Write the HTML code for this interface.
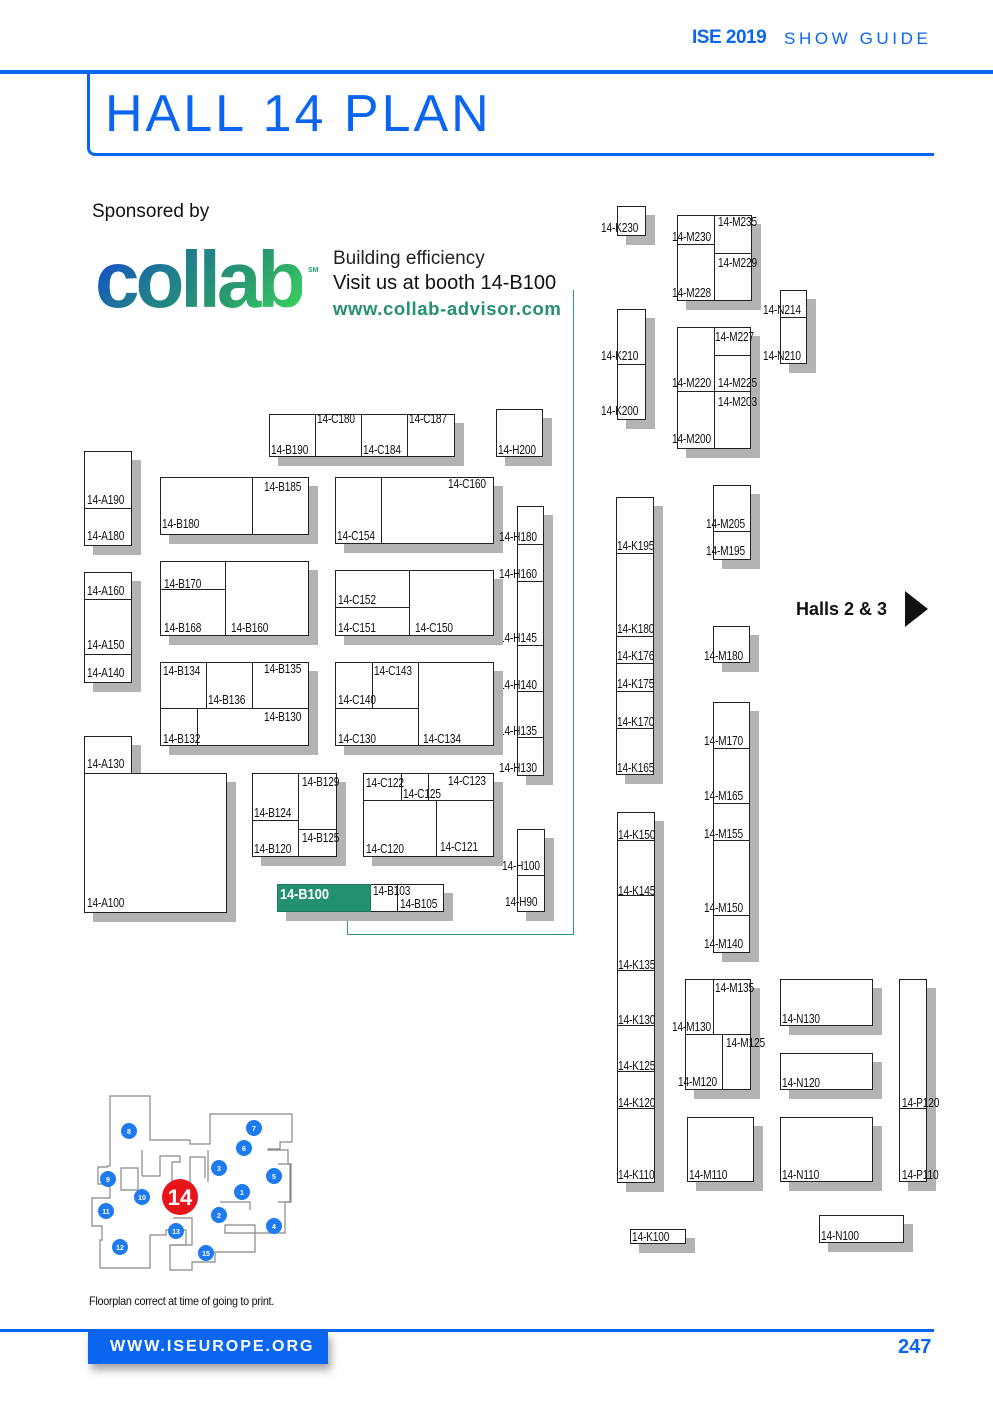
<!DOCTYPE html>
<html><head><meta charset="utf-8"><style>
*{margin:0;padding:0;box-sizing:border-box}
body{width:993px;height:1418px;position:relative;background:#fff;overflow:hidden;font-family:"Liberation Sans",sans-serif}
.b{position:absolute;border:1px solid #222;background:#fff;box-shadow:9px 9px 0 #b3b3b3}
.v{position:absolute;width:1px;background:#222}
.h{position:absolute;height:1px;background:#222}
.t{position:absolute;font-family:"Liberation Sans",sans-serif;font-size:13px;line-height:13px;color:#111;white-space:nowrap;letter-spacing:-0.2px;transform:scaleX(0.78);transform-origin:0 0}
</style></head><body>

<!-- header -->
<div style="position:absolute;left:692px;top:27px;font-size:19px;font-weight:bold;color:#0a66f0;letter-spacing:-0.5px">ISE 2019</div>
<div style="position:absolute;left:784px;top:29px;font-size:17px;color:#0a66f0;letter-spacing:3.6px">SHOW GUIDE</div>
<div style="position:absolute;left:0;top:70px;width:993px;height:4px;background:#0a66f0"></div>
<div style="position:absolute;left:87px;top:72px;width:847px;height:84px;border-left:3px solid #0a66f0;border-bottom:3px solid #0a66f0;border-bottom-left-radius:8px"></div>
<div style="position:absolute;left:105px;top:86px;font-size:52px;line-height:56px;color:#0a66f0;letter-spacing:3px">HALL 14 PLAN</div>

<!-- sponsor -->
<div style="position:absolute;left:92px;top:201px;font-size:19px;color:#111">Sponsored by</div>
<div style="position:absolute;left:95px;top:235px;font-size:80px;line-height:90px;font-weight:bold;letter-spacing:-4px;background:linear-gradient(135deg,#1040e0 0%,#1f7a90 35%,#2a9a70 65%,#3ddc58 100%);-webkit-background-clip:text;background-clip:text;color:transparent">collab</div>
<div style="position:absolute;left:308px;top:267px;font-size:7px;color:#2a9a70;font-weight:bold">SM</div>
<div style="position:absolute;left:333px;top:248px;font-size:19px;color:#222">Building efficiency</div>
<div style="position:absolute;left:333px;top:272px;font-size:20px;color:#111">Visit us at booth 14-B100</div>
<div style="position:absolute;left:333px;top:298px;font-size:18.5px;color:#23906f;font-weight:bold;letter-spacing:0.6px">www.collab-advisor.com</div>

<!-- green connector -->
<div style="position:absolute;left:573px;top:290px;width:1px;height:645px;background:#2a9a78"></div>
<div style="position:absolute;left:347px;top:934px;width:227px;height:1px;background:#2a9a78"></div>
<div style="position:absolute;left:347px;top:905px;width:1px;height:30px;background:#2a9a78"></div>

<!-- C180 row -->
<div class="b" style="left:269px;top:414px;width:186px;height:43px"></div>
<div class="v" style="left:315px;top:414px;height:43px"></div>
<div class="v" style="left:361px;top:414px;height:43px"></div>
<div class="v" style="left:407px;top:414px;height:43px"></div>
<div class="t" style="left:271px;top:443px">14-B190</div>
<div class="t" style="left:317px;top:412px">14-C180</div>
<div class="t" style="left:363px;top:443px">14-C184</div>
<div class="t" style="left:409px;top:412px">14-C187</div>

<div class="b" style="left:496px;top:409px;width:47px;height:48px"></div>
<div class="t" style="left:498px;top:443px">14-H200</div>

<!-- A column -->
<div class="b" style="left:84px;top:451px;width:48px;height:95px"></div>
<div class="h" style="left:84px;top:508px;width:48px"></div>
<div class="t" style="left:87px;top:493px">14-A190</div>
<div class="t" style="left:87px;top:529px">14-A180</div>

<div class="b" style="left:84px;top:572px;width:48px;height:111px"></div>
<div class="h" style="left:84px;top:599px;width:48px"></div>
<div class="h" style="left:84px;top:654px;width:48px"></div>
<div class="t" style="left:87px;top:584px">14-A160</div>
<div class="t" style="left:87px;top:638px">14-A150</div>
<div class="t" style="left:87px;top:666px">14-A140</div>

<div class="b" style="left:84px;top:736px;width:48px;height:38px"></div>
<div class="t" style="left:87px;top:757px">14-A130</div>
<div class="b" style="left:84px;top:773px;width:143px;height:140px"></div>
<div class="t" style="left:87px;top:896px">14-A100</div>

<!-- B180 -->
<div class="b" style="left:160px;top:477px;width:149px;height:58px"></div>
<div class="v" style="left:252px;top:477px;height:58px"></div>
<div class="t" style="left:162px;top:517px">14-B180</div>
<div class="t" style="left:264px;top:480px">14-B185</div>

<!-- C154 -->
<div class="b" style="left:335px;top:477px;width:159px;height:67px"></div>
<div class="v" style="left:381px;top:477px;height:67px"></div>
<div class="t" style="left:337px;top:529px">14-C154</div>
<div class="t" style="left:448px;top:477px">14-C160</div>

<!-- H column -->
<div class="b" style="left:517px;top:506px;width:27px;height:270px"></div>
<div class="h" style="left:517px;top:544px;width:27px"></div>
<div class="h" style="left:517px;top:581px;width:27px"></div>
<div class="h" style="left:517px;top:645px;width:27px"></div>
<div class="h" style="left:517px;top:691px;width:27px"></div>
<div class="h" style="left:517px;top:737px;width:27px"></div>
<div class="t" style="left:499px;top:530px">14-H180</div>
<div class="t" style="left:499px;top:567px">14-H160</div>
<div class="t" style="left:499px;top:631px">14-H145</div>
<div class="t" style="left:499px;top:678px">14-H140</div>
<div class="t" style="left:499px;top:724px">14-H135</div>
<div class="t" style="left:499px;top:761px">14-H130</div>

<!-- B170 -->
<div class="b" style="left:160px;top:561px;width:149px;height:75px"></div>
<div class="v" style="left:225px;top:561px;height:75px"></div>
<div class="h" style="left:160px;top:589px;width:65px"></div>
<div class="t" style="left:164px;top:577px">14-B170</div>
<div class="t" style="left:164px;top:621px">14-B168</div>
<div class="t" style="left:231px;top:621px">14-B160</div>

<!-- C152 -->
<div class="b" style="left:335px;top:570px;width:159px;height:66px"></div>
<div class="v" style="left:409px;top:570px;height:66px"></div>
<div class="h" style="left:335px;top:607px;width:74px"></div>
<div class="t" style="left:338px;top:593px">14-C152</div>
<div class="t" style="left:338px;top:621px">14-C151</div>
<div class="t" style="left:415px;top:621px">14-C150</div>

<!-- B134 -->
<div class="b" style="left:160px;top:662px;width:149px;height:84px"></div>
<div class="h" style="left:160px;top:708px;width:149px"></div>
<div class="v" style="left:206px;top:662px;height:46px"></div>
<div class="v" style="left:252px;top:662px;height:46px"></div>
<div class="v" style="left:197px;top:708px;height:38px"></div>
<div class="t" style="left:163px;top:664px">14-B134</div>
<div class="t" style="left:208px;top:693px">14-B136</div>
<div class="t" style="left:264px;top:662px">14-B135</div>
<div class="t" style="left:264px;top:710px">14-B130</div>
<div class="t" style="left:163px;top:732px">14-B132</div>

<!-- C143 -->
<div class="b" style="left:335px;top:662px;width:159px;height:84px"></div>
<div class="v" style="left:372px;top:662px;height:46px"></div>
<div class="h" style="left:335px;top:708px;width:83px"></div>
<div class="v" style="left:418px;top:662px;height:84px"></div>
<div class="t" style="left:374px;top:664px">14-C143</div>
<div class="t" style="left:338px;top:693px">14-C140</div>
<div class="t" style="left:338px;top:732px">14-C130</div>
<div class="t" style="left:423px;top:732px">14-C134</div>

<!-- B124 -->
<div class="b" style="left:252px;top:773px;width:85px;height:84px"></div>
<div class="v" style="left:298px;top:773px;height:84px"></div>
<div class="h" style="left:252px;top:820px;width:46px"></div>
<div class="h" style="left:298px;top:829px;width:38px"></div>
<div class="t" style="left:302px;top:775px">14-B129</div>
<div class="t" style="left:254px;top:806px">14-B124</div>
<div class="t" style="left:302px;top:831px">14-B125</div>
<div class="t" style="left:254px;top:842px">14-B120</div>

<!-- C122 -->
<div class="b" style="left:363px;top:773px;width:131px;height:84px"></div>
<div class="h" style="left:363px;top:800px;width:131px"></div>
<div class="v" style="left:401px;top:773px;height:27px"></div>
<div class="v" style="left:428px;top:773px;height:27px"></div>
<div class="v" style="left:436px;top:800px;height:57px"></div>
<div class="t" style="left:366px;top:776px">14-C122</div>
<div class="t" style="left:403px;top:787px">14-C125</div>
<div class="t" style="left:448px;top:774px">14-C123</div>
<div class="t" style="left:366px;top:842px">14-C120</div>
<div class="t" style="left:440px;top:840px">14-C121</div>

<!-- H100 -->
<div class="b" style="left:517px;top:829px;width:28px;height:83px"></div>
<div class="h" style="left:517px;top:875px;width:28px"></div>
<div class="t" style="left:502px;top:859px">14-H100</div>
<div class="t" style="left:505px;top:895px">14-H90</div>

<!-- B100 -->
<div class="b" style="left:277px;top:884px;width:167px;height:28px"></div>
<div style="position:absolute;left:277px;top:884px;width:94px;height:28px;background:#23906f;border:1px solid #1e7a5e"></div>
<div class="v" style="left:397px;top:884px;height:28px"></div>
<div style="position:absolute;left:280px;top:886px;font-size:15px;font-weight:bold;color:#fff;transform:scaleX(0.85);transform-origin:0 0">14-B100</div>
<div class="t" style="left:373px;top:884px">14-B103</div>
<div class="t" style="left:400px;top:897px">14-B105</div>

<!-- right side -->
<div class="b" style="left:617px;top:206px;width:29px;height:30px"></div>
<div class="t" style="left:601px;top:221px">14-K230</div>

<div class="b" style="left:677px;top:215px;width:75px;height:86px"></div>
<div class="v" style="left:714px;top:215px;height:86px"></div>
<div class="h" style="left:677px;top:244px;width:37px"></div>
<div class="h" style="left:714px;top:253px;width:38px"></div>
<div class="t" style="left:672px;top:230px">14-M230</div>
<div class="t" style="left:718px;top:215px">14-M235</div>
<div class="t" style="left:718px;top:256px">14-M229</div>
<div class="t" style="left:672px;top:286px">14-M228</div>

<div class="b" style="left:780px;top:290px;width:27px;height:74px"></div>
<div class="h" style="left:780px;top:317px;width:27px"></div>
<div class="t" style="left:763px;top:303px">14-N214</div>
<div class="t" style="left:763px;top:349px">14-N210</div>

<div class="b" style="left:617px;top:309px;width:29px;height:111px"></div>
<div class="h" style="left:617px;top:364px;width:29px"></div>
<div class="t" style="left:601px;top:349px">14-K210</div>
<div class="t" style="left:601px;top:404px">14-K200</div>

<div class="b" style="left:677px;top:327px;width:74px;height:122px"></div>
<div class="v" style="left:714px;top:327px;height:122px"></div>
<div class="h" style="left:714px;top:355px;width:37px"></div>
<div class="h" style="left:677px;top:391px;width:74px"></div>
<div class="t" style="left:715px;top:330px">14-M227</div>
<div class="t" style="left:672px;top:376px">14-M220</div>
<div class="t" style="left:718px;top:376px">14-M225</div>
<div class="t" style="left:718px;top:395px">14-M203</div>
<div class="t" style="left:672px;top:432px">14-M200</div>

<!-- K195 column -->
<div class="b" style="left:616px;top:497px;width:38px;height:278px"></div>
<div class="h" style="left:616px;top:553px;width:38px"></div>
<div class="h" style="left:616px;top:636px;width:38px"></div>
<div class="h" style="left:616px;top:663px;width:38px"></div>
<div class="h" style="left:616px;top:691px;width:38px"></div>
<div class="h" style="left:616px;top:728px;width:38px"></div>
<div class="t" style="left:617px;top:539px">14-K195</div>
<div class="t" style="left:617px;top:622px">14-K180</div>
<div class="t" style="left:617px;top:649px">14-K176</div>
<div class="t" style="left:617px;top:677px">14-K175</div>
<div class="t" style="left:617px;top:715px">14-K170</div>
<div class="t" style="left:617px;top:761px">14-K165</div>

<div class="b" style="left:713px;top:485px;width:38px;height:75px"></div>
<div class="h" style="left:713px;top:531px;width:38px"></div>
<div class="t" style="left:706px;top:517px">14-M205</div>
<div class="t" style="left:706px;top:544px">14-M195</div>

<div class="b" style="left:713px;top:626px;width:37px;height:37px"></div>
<div class="t" style="left:704px;top:649px">14-M180</div>

<div class="b" style="left:713px;top:702px;width:37px;height:251px"></div>
<div class="h" style="left:713px;top:748px;width:37px"></div>
<div class="h" style="left:713px;top:803px;width:37px"></div>
<div class="h" style="left:713px;top:840px;width:37px"></div>
<div class="h" style="left:713px;top:915px;width:37px"></div>
<div class="t" style="left:704px;top:734px">14-M170</div>
<div class="t" style="left:704px;top:789px">14-M165</div>
<div class="t" style="left:704px;top:827px">14-M155</div>
<div class="t" style="left:704px;top:901px">14-M150</div>
<div class="t" style="left:704px;top:937px">14-M140</div>

<!-- Halls 2&3 -->
<div style="position:absolute;left:796px;top:599px;font-size:18px;font-weight:bold;color:#111">Halls 2 &amp; 3</div>
<div style="position:absolute;left:905px;top:591px;width:0;height:0;border-top:18px solid transparent;border-bottom:18px solid transparent;border-left:23px solid #111"></div>

<!-- K150 column -->
<div class="b" style="left:617px;top:812px;width:38px;height:371px"></div>
<div class="h" style="left:617px;top:840px;width:38px"></div>
<div class="h" style="left:617px;top:895px;width:38px"></div>
<div class="h" style="left:617px;top:970px;width:38px"></div>
<div class="h" style="left:617px;top:1025px;width:38px"></div>
<div class="h" style="left:617px;top:1071px;width:38px"></div>
<div class="h" style="left:617px;top:1108px;width:38px"></div>
<div class="t" style="left:618px;top:828px">14-K150</div>
<div class="t" style="left:618px;top:884px">14-K145</div>
<div class="t" style="left:618px;top:958px">14-K135</div>
<div class="t" style="left:618px;top:1013px">14-K130</div>
<div class="t" style="left:618px;top:1059px">14-K125</div>
<div class="t" style="left:618px;top:1096px">14-K120</div>
<div class="t" style="left:618px;top:1168px">14-K110</div>

<!-- M130 block -->
<div class="b" style="left:685px;top:979px;width:66px;height:111px"></div>
<div class="v" style="left:713px;top:979px;height:55px"></div>
<div class="h" style="left:685px;top:1034px;width:66px"></div>
<div class="v" style="left:722px;top:1034px;height:56px"></div>
<div class="t" style="left:715px;top:981px">14-M135</div>
<div class="t" style="left:672px;top:1020px">14-M130</div>
<div class="t" style="left:726px;top:1036px">14-M125</div>
<div class="t" style="left:678px;top:1075px">14-M120</div>

<div class="b" style="left:780px;top:979px;width:93px;height:47px"></div>
<div class="t" style="left:782px;top:1012px">14-N130</div>
<div class="b" style="left:780px;top:1053px;width:93px;height:37px"></div>
<div class="t" style="left:782px;top:1076px">14-N120</div>
<div class="b" style="left:687px;top:1117px;width:67px;height:65px"></div>
<div class="t" style="left:689px;top:1168px">14-M110</div>
<div class="b" style="left:780px;top:1117px;width:93px;height:65px"></div>
<div class="t" style="left:782px;top:1168px">14-N110</div>

<div class="b" style="left:899px;top:979px;width:28px;height:203px"></div>
<div class="h" style="left:899px;top:1108px;width:28px"></div>
<div class="t" style="left:902px;top:1096px">14-P120</div>
<div class="t" style="left:902px;top:1168px">14-P110</div>

<div class="b" style="left:630px;top:1229px;width:56px;height:15px"></div>
<div class="t" style="left:632px;top:1230px">14-K100</div>
<div class="b" style="left:819px;top:1215px;width:85px;height:28px"></div>
<div class="t" style="left:821px;top:1229px">14-N100</div>

<!-- minimap -->
<svg style="position:absolute;left:80px;top:1090px" width="230" height="190" viewBox="0 0 230 190">
<g fill="none" stroke="#888" stroke-width="1.2">
<path d="M30 6 H70 V50 L110 50 L110 54 L130 54 L130 24 L212 24 V52 L200 52 L200 59 L188 59 V60 L208 60 V74 L211 74 V112 L205 112 V143 L145 143 L145 135 L175 135 L175 162 L135 162 L135 172 L112 172 L112 180 L90 180 V155 L106 155 V140 L86 140 V145 L70 145 V178 L20 178 V150 L22 150 V136 L12 136 V125 L12 108 L30 108 V94 L18 94 V77 L27 77 V76 L30 76 Z"/>
<path d="M62 60 V86 M62 86 H80 V66 L100 66 V72 L92 72 V115 L110 115 V67 L125 67 V88 M128 60 V92 M140 112 H170 V120 M93 128 L112 128 L112 155 L90 155"/>
<path d="M41 78 V100 H58 V78 Z M198 74 H210 V112 H198"/>
</g>
<g fill="#1e7af0">
<circle cx="49" cy="41" r="8"/><circle cx="174" cy="38" r="8"/><circle cx="164" cy="58" r="8"/><circle cx="139" cy="78" r="8"/><circle cx="194" cy="86" r="8"/><circle cx="162" cy="102" r="8"/><circle cx="28" cy="89" r="8"/><circle cx="62" cy="107" r="8"/><circle cx="26" cy="121" r="8"/><circle cx="139" cy="125" r="8"/><circle cx="194" cy="136" r="8"/><circle cx="96" cy="141" r="8"/><circle cx="40" cy="157" r="8"/><circle cx="126" cy="163" r="8"/>
</g>
<circle cx="100" cy="107" r="18" fill="#e8141c"/>
<g fill="#fff" font-family="Liberation Sans,sans-serif" font-size="7" font-weight="bold" text-anchor="middle">
<text x="49" y="44">8</text><text x="174" y="41">7</text><text x="164" y="61">6</text><text x="139" y="81">3</text><text x="194" y="89">5</text><text x="162" y="105">1</text><text x="28" y="92">9</text><text x="62" y="110">10</text><text x="26" y="124">11</text><text x="139" y="128">2</text><text x="194" y="139">4</text><text x="96" y="144">13</text><text x="40" y="160">12</text><text x="126" y="166">15</text>
<text x="100" y="115" font-size="22">14</text>
</g>
</svg>

<!-- footer -->
<div style="position:absolute;left:89px;top:1294px;font-size:12px;color:#111;letter-spacing:-0.3px;transform:scaleX(0.9);transform-origin:0 0">Floorplan correct at time of going to print.</div>
<div style="position:absolute;left:0;top:1329px;width:934px;height:3px;background:#0a66f0"></div>
<div style="position:absolute;left:88px;top:1331px;width:240px;height:33px;background:#0a66f0;box-shadow:3px 6px 8px rgba(0,0,0,0.35)"></div>
<div style="position:absolute;left:110px;top:1338px;font-size:16px;font-weight:bold;color:#fff;letter-spacing:2px">WWW.ISEUROPE.ORG</div>
<div style="position:absolute;left:898px;top:1336px;font-size:20px;font-weight:bold;color:#0a66f0">247</div>
</body></html>
